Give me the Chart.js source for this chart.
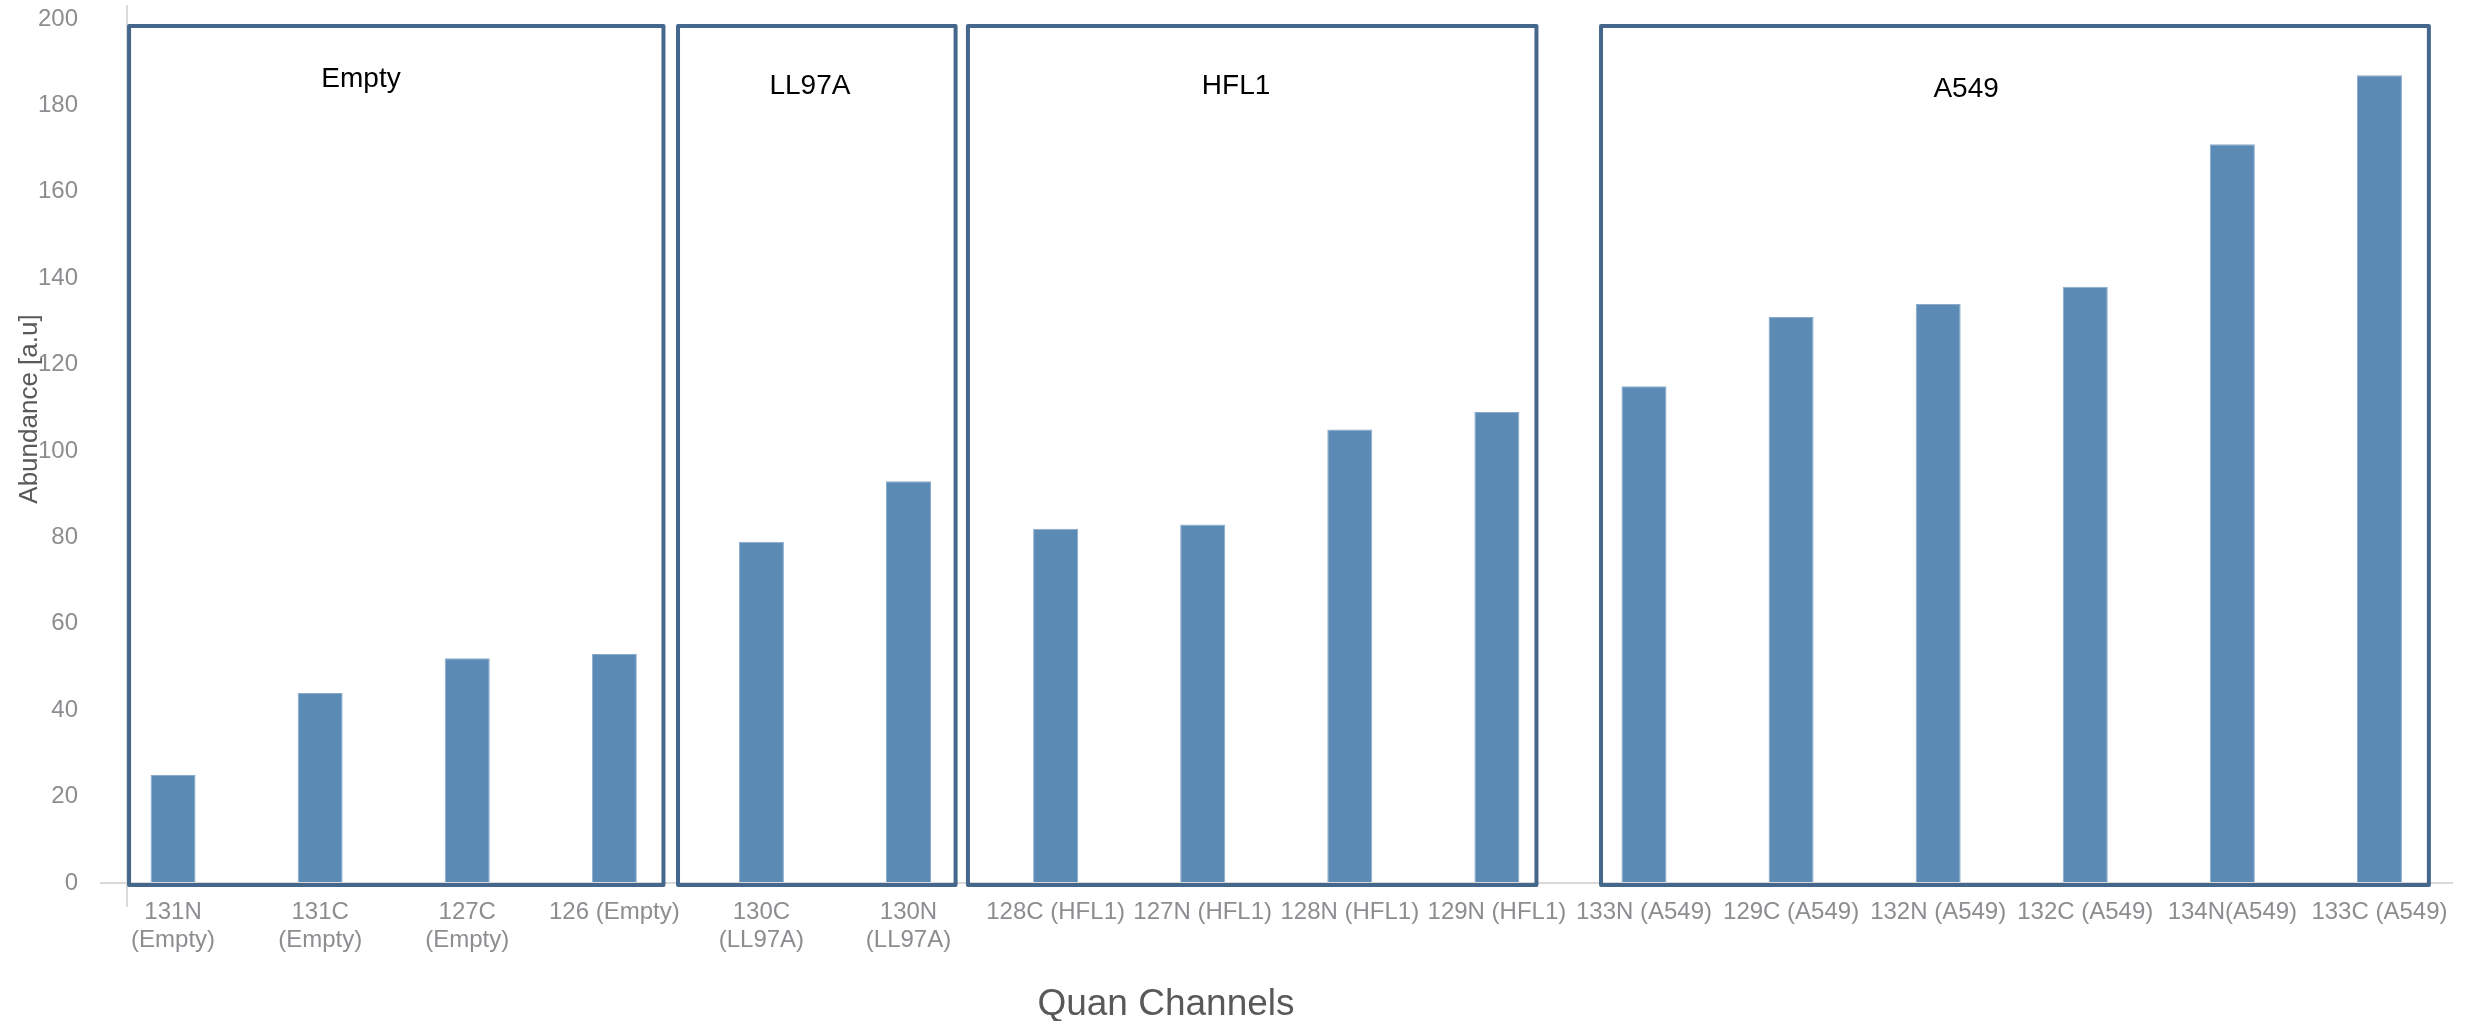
<!DOCTYPE html>
<html>
<head>
<meta charset="utf-8">
<title>Quan Channels abundance</title>
<script src="https://cdn.jsdelivr.net/npm/chart.js@4.4.1/dist/chart.umd.min.js"></script>
<style>
  html, body { margin: 0; padding: 0; background: #ffffff; }
  #wrap { width: 2476px; height: 1021px; position: relative; }
</style>
</head>
<body>
<div id="wrap"><canvas id="chart" width="2476" height="1021"></canvas></div>
<script>
// ---- data ----
const channelLabels = [
  ['131N', '(Empty)'], ['131C', '(Empty)'], ['127C', '(Empty)'], '126 (Empty)',
  ['130C', '(LL97A)'], ['130N', '(LL97A)'],
  '128C (HFL1)', '127N (HFL1)', '128N (HFL1)', '129N (HFL1)',
  '133N (A549)', '129C (A549)', '132N (A549)', '132C (A549)', '134N(A549)', '133C (A549)'
];
const abundance = [25, 44, 52, 53, 79, 93, 82, 83, 105, 109, 115, 131, 134, 138, 171, 187];
const cellLines = ['Empty', 'LL97A', 'HFL1', 'A549'];
const cellLineFirst = [0, 4, 6, 10];
const cellLineLast = [3, 5, 9, 15];
const yMin = 0, yMax = 200, yStep = 20;
const xTitle = 'Quan Channels';
const yTitle = 'Abundance [a.u]';

// ---- layout of the group frames (x in category units, y in value units) ----
const frameLeftPad = [0.299, 0.567, 0.596, 0.292];
const frameRightPad = [0.334, 0.320, 0.269, 0.336];
const frameTopValue = 198.4;
const frameBottomValue = -0.46;
const frameLabelX = [1.278, 4.33, 7.227, 12.19];
const frameLabelBaseline = [184.3, 182.6, 182.6, 181.9];

const FONT = "'Liberation Sans', Arial, Helvetica, sans-serif";
const TICK_GREY = '#8b8d90';
const TITLE_GREY = '#595959';
const FRAME_BLUE = '#45678b';

// Frames around each cell line, their names, axis titles and the left rule.
const frameLayer = {
  id: 'frameLayer',
  beforeDatasetsDraw(chart) {
    const { ctx, scales: { x, y } } = chart;
    const pxPerCat = x.getPixelForValue(1) - x.getPixelForValue(0);
    const ruleX = x.getPixelForValue(0) - frameLeftPad[0] * pxPerCat - 2;
    ctx.save();
    ctx.strokeStyle = '#d9d9d9';
    ctx.lineWidth = 2;
    ctx.beginPath();
    ctx.moveTo(ruleX, y.getPixelForValue(yMax) - 14);
    ctx.lineTo(ruleX, y.getPixelForValue(yMin) + 24);
    ctx.stroke();
    ctx.restore();
  },
  afterDatasetsDraw(chart) {
    const { ctx, scales: { x, y } } = chart;
    const pxPerCat = x.getPixelForValue(1) - x.getPixelForValue(0);
    const catPx = (u) => x.getPixelForValue(0) + u * pxPerCat;
    ctx.save();
    ctx.strokeStyle = FRAME_BLUE;
    ctx.lineWidth = 4;
    ctx.lineJoin = 'round';
    const top = y.getPixelForValue(frameTopValue);
    const bottom = y.getPixelForValue(frameBottomValue);
    cellLines.forEach((name, i) => {
      const left = catPx(cellLineFirst[i] - frameLeftPad[i]);
      const right = catPx(cellLineLast[i] + frameRightPad[i]);
      ctx.strokeRect(left, top, right - left, bottom - top);
      ctx.fillStyle = '#000000';
      ctx.font = `28px ${FONT}`;
      ctx.textAlign = 'center';
      ctx.textBaseline = 'alphabetic';
      ctx.fillText(name, catPx(frameLabelX[i]), y.getPixelForValue(frameLabelBaseline[i]));
    });

    // axis titles
    ctx.fillStyle = TITLE_GREY;
    ctx.textAlign = 'center';
    ctx.textBaseline = 'alphabetic';
    ctx.font = `37px ${FONT}`;
    ctx.fillText(xTitle, 1166, 1015);
    ctx.translate(37, 409);
    ctx.rotate(-Math.PI / 2);
    ctx.font = `26px ${FONT}`;
    ctx.fillText(yTitle, 0, 0);
    ctx.restore();
  }
};

new Chart(document.getElementById('chart'), {
  type: 'bar',
  data: {
    labels: channelLabels,
    datasets: [{
      label: yTitle,
      data: abundance,
      backgroundColor: '#5b8ab5',
      borderColor: '#8aabcb',
      borderWidth: 1,
      categoryPercentage: 1,
      barPercentage: 0.306
    }]
  },
  options: {
    responsive: false,
    animation: false,
    devicePixelRatio: 1,
    layout: { padding: { top: 19, right: 23, left: 0, bottom: 0 } },
    plugins: { legend: { display: false }, tooltip: { enabled: false } },
    scales: {
      x: {
        grid: { display: false, drawTicks: false },
        border: { display: false },
        ticks: {
          autoSkip: false, maxRotation: 0, minRotation: 0,
          font: { family: FONT, size: 24, lineHeight: 1.18 },
          color: TICK_GREY,
          padding: 15
        },
        afterFit(scale) { scale.height = 138; }
      },
      y: {
        min: yMin, max: yMax,
        ticks: {
          stepSize: yStep,
          font: { family: FONT, size: 24 },
          color: TICK_GREY,
          padding: 21.5
        },
        grid: {
          drawTicks: false,
          lineWidth: 2,
          color: (c) => (c.tick && c.tick.value === 0 ? '#d9d9d9' : 'rgba(0,0,0,0)')
        },
        border: { display: false },
        afterFit(scale) {
          scale.width = 99.5;
          scale.paddingTop = 0;
          scale.paddingBottom = 0;
        }
      }
    }
  },
  plugins: [frameLayer]
});
</script>
</body>
</html>
